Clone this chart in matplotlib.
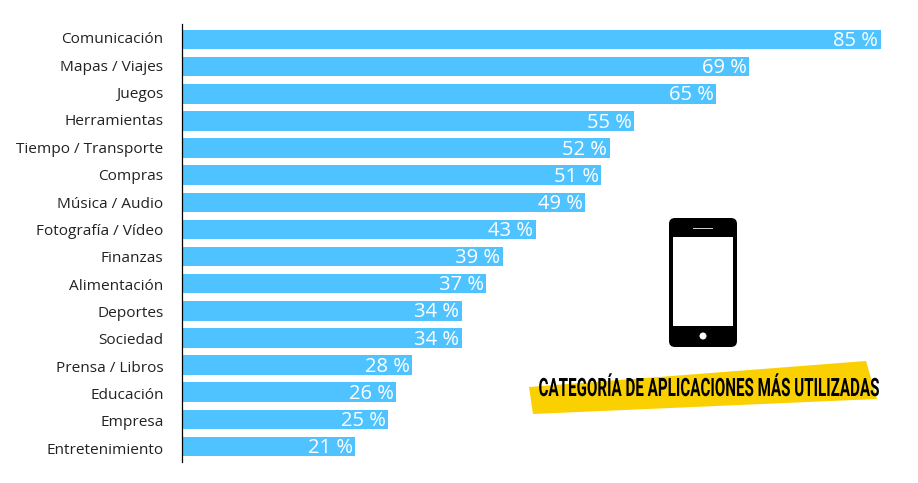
import numpy as np
import matplotlib.pyplot as plt
import matplotlib.patheffects as pe
from matplotlib.patches import Polygon, FancyBboxPatch, Circle, Rectangle
from matplotlib.transforms import Affine2D

categories = ['Comunicación', 'Mapas / Viajes', 'Juegos', 'Herramientas', 'Tiempo / Transporte',
              'Compras', 'Música / Audio', 'Fotografía / Vídeo', 'Finanzas', 'Alimentación',
              'Deportes', 'Sociedad', 'Prensa / Libros', 'Educación', 'Empresa', 'Entretenimiento']
values = [85, 69, 65, 55, 52, 51, 49, 43, 39, 37, 34, 34, 28, 26, 25, 21]
title = 'CATEGORÍA DE APLICACIONES MÁS UTILIZADAS'

plt.rcParams['font.family'] = ['Open Sans', 'DejaVu Sans']


# no condensed font installed, so squeeze the glyphs around an anchor (display pixels)
class Squeeze(pe.AbstractPathEffect):
    def __init__(self, sx, sy, x0, y0):
        super().__init__()
        self.scaler = Affine2D().translate(-x0, -y0).scale(sx, sy).translate(x0, y0)

    def draw_path(self, renderer, gc, tpath, affine, rgbFace=None):
        renderer.draw_path(gc, tpath, affine + self.scaler, rgbFace)


fig = plt.figure(figsize=(9.18, 4.83), dpi=100)
ax = fig.add_axes([182.5 / 918, 1 - 462 / 483, (885 - 182.5) / 918, (462 - 24) / 483])

# set_position resets the ticks, so it has to come before the tick labels
for s in ['top', 'right', 'bottom']:
    ax.spines[s].set_visible(False)
ax.spines['left'].set_linewidth(0.9)
ax.spines['left'].set_color('black')
ax.spines['left'].set_position(('outward', 0.6))

y = np.arange(len(values))
ax.barh(y, values, height=0.72, color='#4fc3ff')
ax.set_ylim(len(values) - 0.43, -0.57)
ax.set_xlim(0, 85 * 702.5 / 698)

for i, v in enumerate(values):
    ax.text(v - 0.28, i + 0.06, f'{v} %', color='white', fontsize=14.5, ha='right', va='center')

# labels drift slightly against the bars in the original
ax.set_yticks(y * 1.0085 - 0.06)
ax.set_yticklabels(categories, fontsize=11.1, color='#222222')
ax.tick_params(axis='y', length=0, pad=13)
ax.set_xticks([])

# overlay in pixel coordinates
ov = fig.add_axes([0, 0, 1, 1])
ov.set_xlim(0, 918)
ov.set_ylim(483, 0)
ov.axis('off')
ov.patch.set_alpha(0)

ov.add_patch(Polygon([(529, 387), (866, 361), (877, 399), (533, 414)], color='#fad000', lw=0))
t = ov.text(708, 389, title, fontsize=13, fontweight='bold', family=['Roboto', 'DejaVu Sans'],
            ha='center', va='center', color='black')
t.set_path_effects([Squeeze(0.84, 1.4, 708, 483 - 389)])

# phone icon
ov.add_patch(FancyBboxPatch((672, 221), 62, 123, boxstyle='round,pad=3,rounding_size=6', color='black', lw=0))
ov.add_patch(Rectangle((673, 237), 60, 89, color='white', lw=0))
ov.add_patch(Circle((703, 336), 3.5, color='white', lw=0))
ov.add_patch(Rectangle((693, 228), 20, 1.4, color='#cccccc', lw=0))

fig.savefig('out.png', dpi=100)
